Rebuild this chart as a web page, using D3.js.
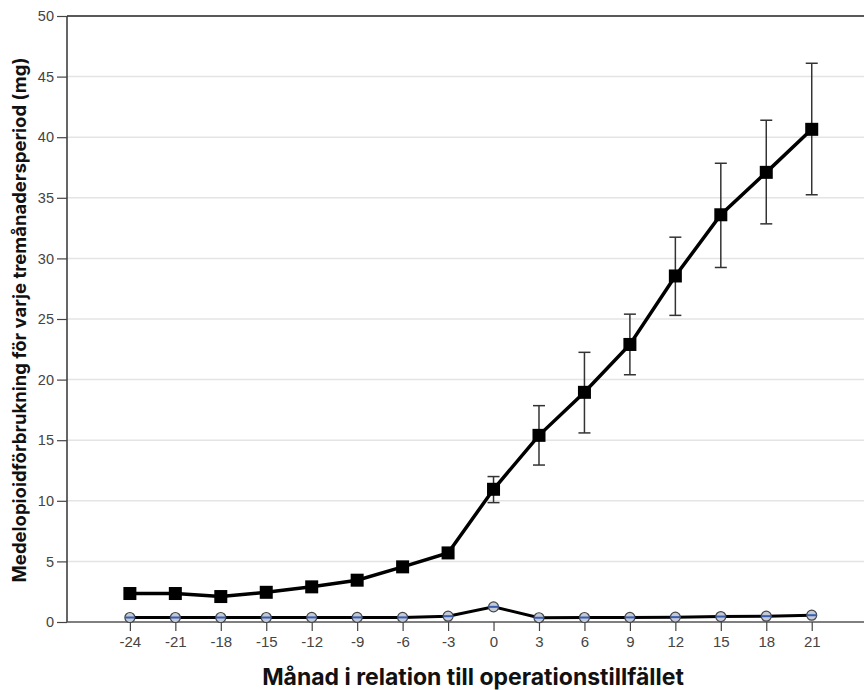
<!DOCTYPE html>
<html>
<head>
<meta charset="utf-8">
<script src="https://cdn.jsdelivr.net/npm/d3@7"></script>
<style>
  body { margin: 0; background: #fff; }
  .tick text { font-family: "Liberation Sans", Arial, sans-serif; font-size: 14.5px; fill: #444; }
  .x-axis .tick text { font-size: 15px; }
</style>
</head>
<body>
<svg id="chart" width="864" height="690"></svg>
<script>
// months relative to surgery
let months = [-24, -21, -18, -15, -12, -9, -6, -3, 0, 3, 6, 9, 12, 15, 18, 21];

// series 1 (squares) mean and error bars
let mean_a  = [2.35, 2.35, 2.1, 2.45, 2.9, 3.45, 4.55, 5.7, 10.95, 15.4, 18.95, 22.9, 28.55, 33.6, 37.1, 40.65];
let low_a   = [2.35, 2.35, 2.1, 2.45, 2.9, 3.45, 4.55, 5.7, 9.85, 12.95, 15.6, 20.4, 25.3, 29.25, 32.85, 35.25];
let high_a  = [2.35, 2.35, 2.1, 2.45, 2.9, 3.45, 4.55, 5.7, 12.0, 17.85, 22.25, 25.4, 31.75, 37.85, 41.4, 46.1];

// series 2 (circles) mean
let mean_b  = [0.37, 0.37, 0.37, 0.37, 0.38, 0.38, 0.38, 0.48, 1.25, 0.35, 0.37, 0.38, 0.4, 0.45, 0.48, 0.56];

let y_ticks = [0, 5, 10, 15, 20, 25, 30, 35, 40, 45, 50];

let svg = d3.select("#chart"),
    margin = {top: 16, right: 0, bottom: 68, left: 67},
    width = +svg.attr("width") - margin.left - margin.right,
    height = +svg.attr("height") - margin.top - margin.bottom;

let x = d3.scaleLinear().domain([-28.15, 24.45]).range([0, width]);
let y = d3.scaleLinear().domain([0, 50]).range([height, 0]);

let g = svg.append("g")
    .attr("transform", "translate(" + margin.left + "," + margin.top + ")");

// gridlines
g.append("g").selectAll("line")
    .data(y_ticks.filter(d => d > 0 && d < 50))
    .enter().append("line")
    .attr("x1", 0).attr("x2", width)
    .attr("y1", d => y(d)).attr("y2", d => y(d))
    .style("stroke", "#e4e4e4")
    .style("stroke-width", 1.5);

// top frame
g.append("line")
    .attr("x1", 0).attr("x2", width)
    .attr("y1", 0).attr("y2", 0)
    .style("stroke", "#222").style("stroke-width", 1.5);

// y axis
let yAxis = g.append("g")
    .call(d3.axisLeft(y).tickValues(y_ticks).tickSize(10).tickPadding(3).tickFormat(d => String(d)));
yAxis.select(".domain").attr("d", "M0," + height + "V0").style("stroke", "#333").style("stroke-width", 1.5);
yAxis.selectAll(".tick line").style("stroke", "#444").style("stroke-width", 1.2);

// x axis
let xAxis = g.append("g")
    .attr("class", "x-axis")
    .attr("transform", "translate(0," + height + ")")
    .call(d3.axisBottom(x).tickValues(months).tickSize(9).tickPadding(5).tickFormat(d => String(d)));
xAxis.select(".domain").attr("d", "M0,0H" + width).style("stroke", "#555").style("stroke-width", 1.5);
xAxis.selectAll(".tick line").style("stroke", "#444").style("stroke-width", 1.2);

// error bars series a
let eb = g.append("g");
months.forEach(function(m, i) {
    if (high_a[i] - low_a[i] < 0.5) return;
    eb.append("line")
        .attr("x1", x(m)).attr("x2", x(m))
        .attr("y1", y(high_a[i])).attr("y2", y(low_a[i]))
        .style("stroke", "#333").style("stroke-width", 1.5);
    [high_a[i], low_a[i]].forEach(function(v) {
        eb.append("line")
            .attr("x1", x(m) - 6).attr("x2", x(m) + 6)
            .attr("y1", y(v)).attr("y2", y(v))
            .style("stroke", "#333").style("stroke-width", 1.5);
    });
});

let line = d3.line().x(d => x(d[0])).y(d => y(d[1]));

// series b line + circles
g.append("path")
    .datum(months.map((m, i) => [m, mean_b[i]]))
    .attr("d", line)
    .style("fill", "none").style("stroke", "#000").style("stroke-width", 3);

g.append("g").selectAll("circle")
    .data(months)
    .enter().append("circle")
    .attr("cx", d => x(d))
    .attr("cy", (d, i) => y(mean_b[i]))
    .attr("r", 5)
    .style("fill", "#c3cad8")
    .style("stroke", "#444")
    .style("stroke-width", 1.2);

g.append("g").selectAll("line")
    .data(months)
    .enter().append("line")
    .attr("x1", d => x(d) - 5).attr("x2", d => x(d) + 5)
    .attr("y1", (d, i) => y(mean_b[i])).attr("y2", (d, i) => y(mean_b[i]))
    .style("stroke", "#3a5db0").style("stroke-width", 2);

// series a line + squares
g.append("path")
    .datum(months.map((m, i) => [m, mean_a[i]]))
    .attr("d", line)
    .style("fill", "none").style("stroke", "#000").style("stroke-width", 3.5);

g.append("g").selectAll("rect")
    .data(months)
    .enter().append("rect")
    .attr("x", d => x(d) - 6.5)
    .attr("y", (d, i) => y(mean_a[i]) - 6.5)
    .attr("width", 13).attr("height", 13)
    .style("fill", "#000");

// axis titles
svg.append("text")
    .attr("x", 473).attr("y", 685)
    .style("text-anchor", "middle")
    .style("font-family", "Inter, 'Liberation Sans', sans-serif")
    .style("font-weight", "bold")
    .style("font-size", "23px")
    .style("fill", "#111")
    .text("Månad i relation till operationstillfället");

svg.append("text")
    .attr("transform", "rotate(-90)")
    .attr("x", -320).attr("y", 26)
    .style("text-anchor", "middle")
    .style("font-family", "Inter, 'Liberation Sans', sans-serif")
    .style("font-weight", "bold")
    .style("font-size", "18.5px")
    .style("fill", "#111")
    .text("Medelopioidförbrukning för varje tremånadersperiod (mg)");
</script>
</body>
</html>
